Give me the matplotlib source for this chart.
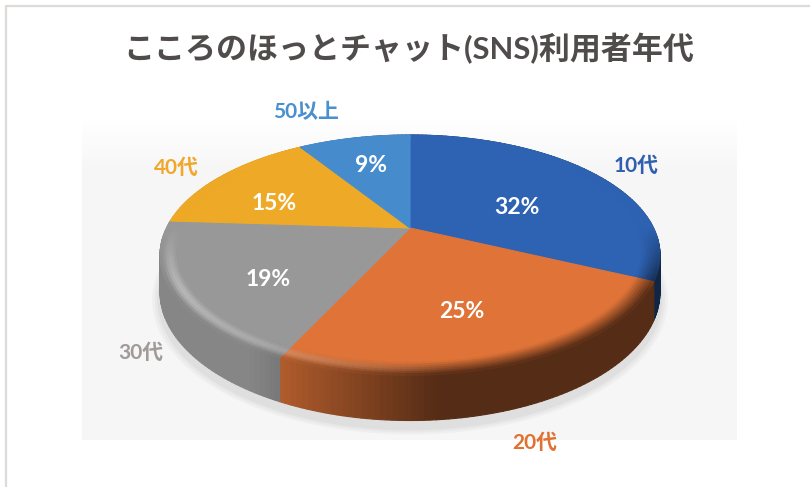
#!/usr/bin/env python3

# pie chart of chat users by age, drawn as a thick 3D disc in pixel coordinates

import numpy as np
import matplotlib
matplotlib.use("Agg")
import matplotlib.pyplot as plt
from matplotlib.collections import PolyCollection

plt.rcParams['font.family'] = ['Lato', 'Noto Sans CJK JP', 'DejaVu Sans']

# the data
title = "こころのほっとチャット(SNS)利用者年代"
categories = ["10代", "20代", "30代", "40代", "50以上"]
shares = [32, 25, 19, 15, 9]
colors = ["#2e62b2", "#e07438", "#989899", "#eeaa26", "#468ccd"]
label_colors = ["#2f5fb0", "#e2702f", "#a09a98", "#f0a72c", "#4a90cf"]

# where the texts sit, in pixels
label_xy = [(636, 166), (535, 443), (141, 353), (176, 168), (306, 112)]
pct_xy = [(517, 207), (462, 312), (268, 279), (274, 203), (371, 165)]

# disc geometry: centre, radii, perspective and thickness
cx, cy = 410, 228
rx, ry = 243.5, 114
k = 0.226
depth = 35


def project(theta, r=1.0, z=0.0):
    # theta runs clockwise from the top of the disc
    u = r * np.sin(theta)
    v = r * np.cos(theta)
    w = 1 + k * v
    return cx + rx * u / w, cy - ry * v / w + z / w


def quad(t0, t1, r0, z0, r1, z1):
    x0, y0 = project(t0, r0, z0)
    x1, y1 = project(t1, r0, z0)
    x2, y2 = project(t1, r1, z1)
    x3, y3 = project(t0, r1, z1)
    return [(x0, y0), (x1, y1), (x2, y2), (x3, y3)]


def side_factor(t):
    return float(np.clip(0.45 - 0.8 * np.sin(t), 0.38, 0.88))


fig = plt.figure(figsize=(8.1, 4.87), dpi=100)
ax = fig.add_axes([0, 0, 1, 1])
ax.set_xlim(0, 810)
ax.set_ylim(487, 0)
ax.axis("off")

# pale panel behind the pie, fading out at the top
panel = np.ones((100, 2, 4))
panel[:, :, :3] = 0.965
panel[:, :, 3] = np.clip(np.linspace(0, 6, 100), 0, 1)[:, None]
ax.imshow(panel, extent=[82, 737, 440, 118], aspect="auto", zorder=0)
ax.set_xlim(0, 810)
ax.set_ylim(487, 0)

# frame of the screenshot
ax.plot([6, 6, 810], [487, 6, 6], color="#dedad8", lw=1.6, zorder=1)

# soft shadow under the disc
angles = np.linspace(0, 2 * np.pi, 240)
for grow, a in [(1.03, 0.05), (1.02, 0.06), (1.01, 0.08)]:
    sx, sy = project(angles, grow, depth + 6)
    ax.fill(sx, sy, color="#808080", alpha=a, lw=0, zorder=2)

# wedge limits come from the shares
edges = np.cumsum([0] + shares) / sum(shares) * 2 * np.pi

side_polys, side_cols = [], []
top_polys, top_cols = [], []
bevel_from = 0.93
ring = np.linspace(bevel_from, 1.0, 8)

for i in range(len(shares)):
    base = np.array(matplotlib.colors.to_rgb(colors[i]))
    steps = max(int((edges[i + 1] - edges[i]) / 0.02), 2)
    ts = np.linspace(edges[i], edges[i + 1], steps + 1)

    # flat top face
    xs, ys = project(ts, bevel_from + 0.005)
    top_polys.append([(cx, cy)] + list(zip(xs, ys)))
    top_cols.append(base)

    for t0, t1 in zip(ts[:-1], ts[1:]):
        tm = (t0 + t1) / 2
        side = base * side_factor(tm)
        v = np.cos(tm)
        u = np.sin(tm)
        strength = float(np.clip(-2.0 * v, 0, 1))

        # outer wall
        side_polys.append(quad(t0, t1, 1.0, 0, 1.0, depth))
        side_cols.append(np.clip(side, 0, 1))

        # rounded rim between the top face and the wall
        for r0, r1 in zip(ring[:-1], ring[1:]):
            m = (r0 + r1 - 2 * bevel_from) / 2 / (1 - bevel_from)
            c = base * (1 - m * strength) + side * m * strength
            hi = max(0.0, -u + 0.15) * strength * np.sin(np.pi * m) ** 2 * 0.35
            c = c + (1 - c) * hi
            top_polys.append(quad(t0, t1, r0, 0, r1, 0))
            top_cols.append(np.clip(c, 0, 1))

ax.add_collection(PolyCollection(side_polys, facecolors=side_cols, edgecolors=side_cols,
                                 linewidths=0.8, zorder=3))
ax.add_collection(PolyCollection(top_polys, facecolors=top_cols, edgecolors=top_cols,
                                 linewidths=0.8, zorder=4))

# texts
ax.text(409, 48, title, ha="center", va="center", fontsize=22.3, fontweight="bold",
        color="#504c4c", zorder=6)
for i in range(len(categories)):
    ax.text(label_xy[i][0], label_xy[i][1], categories[i], ha="center", va="center",
            fontsize=15, fontweight="bold", color=label_colors[i], zorder=6)
    ax.text(pct_xy[i][0], pct_xy[i][1], f"{shares[i]}%", ha="center", va="center",
            fontsize=16.5, fontweight="bold", color="white", zorder=6)

fig.savefig("out.png", dpi=100)
